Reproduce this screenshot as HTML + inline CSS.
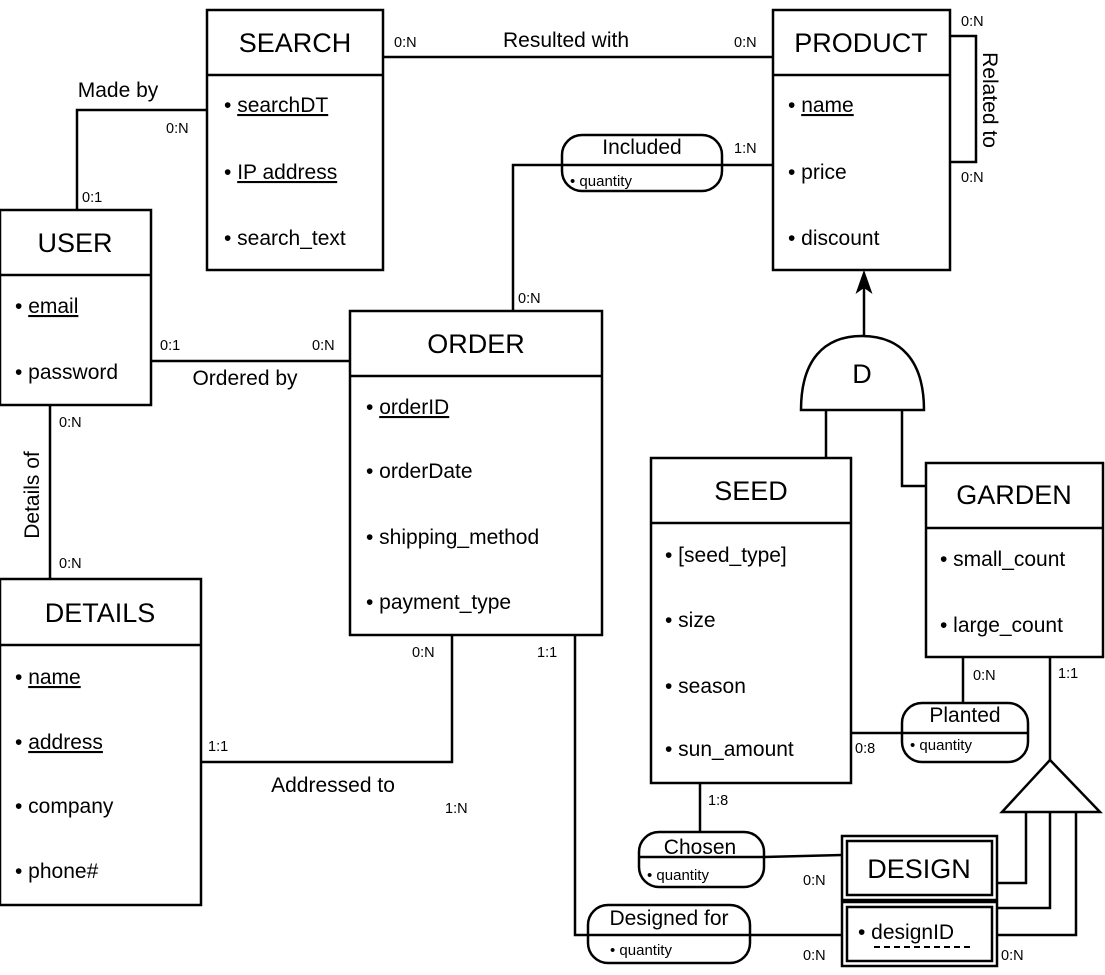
<!DOCTYPE html>
<html><head><meta charset="utf-8"><style>
html,body{margin:0;padding:0;background:#fff;}
svg{display:block;font-family:"Liberation Sans",Arial,sans-serif;}
.t{font-size:27px;text-anchor:middle;}
.a{font-size:21px;}
.s{font-size:14.5px;}
.r{font-size:21px;text-anchor:middle;}
.q{font-size:15px;}
</style></head><body>
<svg width="1105" height="975" viewBox="0 0 1105 975" xmlns="http://www.w3.org/2000/svg">
<g fill="none" stroke="#000" stroke-width="2.5">
<rect x="207" y="10" width="176" height="260"/><line x1="207" y1="75" x2="383" y2="75"/>
<rect x="773" y="10" width="177" height="260"/><line x1="773" y1="75" x2="950" y2="75"/>
<rect x="0" y="210" width="151" height="195"/><line x1="0" y1="275" x2="151" y2="275"/>
<rect x="350" y="311" width="252" height="324"/><line x1="350" y1="376" x2="602" y2="376"/>
<rect x="0" y="579" width="201" height="326"/><line x1="0" y1="645" x2="201" y2="645"/>
<rect x="651" y="458" width="200" height="325"/><line x1="651" y1="523" x2="851" y2="523"/>
<rect x="926" y="463" width="177" height="194"/><line x1="926" y1="528" x2="1103" y2="528"/>
<rect x="842" y="836" width="155" height="64"/><rect x="847" y="841" width="145" height="54"/>
<rect x="842" y="902" width="155" height="64"/><rect x="847" y="907" width="145" height="54"/>
<rect x="562" y="135" width="160" height="56" rx="20"/><line x1="562" y1="165" x2="722" y2="165"/>
<rect x="902" y="703" width="126" height="59" rx="20"/><line x1="902" y1="733" x2="1028" y2="733"/>
<rect x="639" y="832" width="125" height="55" rx="20"/><line x1="639" y1="857" x2="764" y2="857"/>
<rect x="588" y="905" width="162" height="58" rx="20"/><line x1="588" y1="935" x2="750" y2="935"/>
<line x1="383" y1="57" x2="773" y2="57"/>
<polyline points="950,36 976,36 976,162 950,162"/>
<polyline points="77,210 77,110 207,110"/>
<polyline points="773,165 722,165"/>
<polyline points="562,165 513,165 513,311"/>
<line x1="151" y1="361" x2="350" y2="361"/>
<line x1="50" y1="405" x2="50" y2="579"/>
<polyline points="201,762 452,762 452,635"/>
<polyline points="575,635 575,935 588,935"/>
<line x1="750" y1="935" x2="842" y2="935"/>
<line x1="851" y1="733" x2="902" y2="733"/>
<line x1="963" y1="703" x2="963" y2="657"/>
<line x1="700" y1="783" x2="700" y2="832"/>
<line x1="764" y1="857" x2="842" y2="855"/>
<path d="M801,410 L924,410 C924,360 900,336 862,336 C824,336 801,360 801,410 Z"/>
<line x1="864" y1="336" x2="864" y2="282"/>
<line x1="826" y1="410" x2="826" y2="458"/>
<polyline points="902,410 902,486 926,486"/>
<polygon points="1050,760 1002,812 1100,812"/>
<line x1="1050" y1="657" x2="1050" y2="760"/>
<polyline points="1026,812 1026,883 997,883"/>
<polyline points="1050,812 1050,908 997,908"/>
<polyline points="1076,812 1076,935 997,935"/>
</g>
<polygon points="864,272 857,292 864,287 871,292" fill="#000" stroke="#000" stroke-width="1.5"/>
<line x1="874" y1="947" x2="972" y2="947" stroke="#000" stroke-width="2" stroke-dasharray="6,4"/>
<g fill="#000">
<text class="t" x="295" y="52">SEARCH</text>
<text class="t" x="861" y="52">PRODUCT</text>
<text class="t" x="75" y="252">USER</text>
<text class="t" x="476" y="353">ORDER</text>
<text class="t" x="100" y="622">DETAILS</text>
<text class="t" x="751" y="500">SEED</text>
<text class="t" x="1014" y="504">GARDEN</text>
<text class="t" x="919" y="878">DESIGN</text>
<text class="t" x="862" y="383">D</text>
<text class="a" x="224" y="112">• <tspan text-decoration="underline">searchDT</tspan></text>
<text class="a" x="224" y="179">• <tspan text-decoration="underline">IP address</tspan></text>
<text class="a" x="224" y="245">• search_text</text>
<text class="a" x="788" y="112">• <tspan text-decoration="underline">name</tspan></text>
<text class="a" x="788" y="179">• price</text>
<text class="a" x="788" y="245">• discount</text>
<text class="a" x="15" y="313">• <tspan text-decoration="underline">email</tspan></text>
<text class="a" x="15" y="379">• password</text>
<text class="a" x="366" y="414">• <tspan text-decoration="underline">orderID</tspan></text>
<text class="a" x="366" y="478">• orderDate</text>
<text class="a" x="366" y="544">• shipping_method</text>
<text class="a" x="366" y="609">• payment_type</text>
<text class="a" x="15" y="684">• <tspan text-decoration="underline">name</tspan></text>
<text class="a" x="15" y="749">• <tspan text-decoration="underline">address</tspan></text>
<text class="a" x="15" y="813">• company</text>
<text class="a" x="15" y="878">• phone#</text>
<text class="a" x="665" y="562">• [seed_type]</text>
<text class="a" x="665" y="627">• size</text>
<text class="a" x="665" y="693">• season</text>
<text class="a" x="665" y="756">• sun_amount</text>
<text class="a" x="940" y="566">• small_count</text>
<text class="a" x="940" y="632">• large_count</text>
<text class="a" x="858" y="939">• designID</text>
<text class="r" x="642" y="154">Included</text>
<text class="q" x="570" y="186">• quantity</text>
<text class="r" x="965" y="722">Planted</text>
<text class="q" x="910" y="750">• quantity</text>
<text class="r" x="700" y="854">Chosen</text>
<text class="q" x="647" y="880">• quantity</text>
<text class="r" x="669" y="925">Designed for</text>
<text class="q" x="610" y="955">• quantity</text>
<text class="a" x="566" y="47" text-anchor="middle">Resulted with</text>
<text class="a" x="118" y="97" text-anchor="middle">Made by</text>
<text class="a" x="245" y="385" text-anchor="middle">Ordered by</text>
<text class="a" x="333" y="792" text-anchor="middle">Addressed to</text>
<text class="a" transform="translate(983,100) rotate(90)" text-anchor="middle">Related to</text>
<text class="a" transform="translate(39,495) rotate(-90)" text-anchor="middle">Details of</text>
<text class="s" x="394" y="47">0:N</text>
<text class="s" x="734" y="47">0:N</text>
<text class="s" x="961" y="26">0:N</text>
<text class="s" x="961" y="182">0:N</text>
<text class="s" x="166" y="133">0:N</text>
<text class="s" x="82" y="202">0:1</text>
<text class="s" x="734" y="153">1:N</text>
<text class="s" x="518" y="303">0:N</text>
<text class="s" x="160" y="350">0:1</text>
<text class="s" x="312" y="350">0:N</text>
<text class="s" x="59" y="427">0:N</text>
<text class="s" x="59" y="568">0:N</text>
<text class="s" x="208" y="751">1:1</text>
<text class="s" x="412" y="657">0:N</text>
<text class="s" x="537" y="657">1:1</text>
<text class="s" x="445" y="813">1:N</text>
<text class="s" x="855" y="753">0:8</text>
<text class="s" x="973" y="680">0:N</text>
<text class="s" x="1058" y="678">1:1</text>
<text class="s" x="708" y="805">1:8</text>
<text class="s" x="803" y="885">0:N</text>
<text class="s" x="803" y="960">0:N</text>
<text class="s" x="1001" y="960">0:N</text>
</g>
</svg>
</body></html>
